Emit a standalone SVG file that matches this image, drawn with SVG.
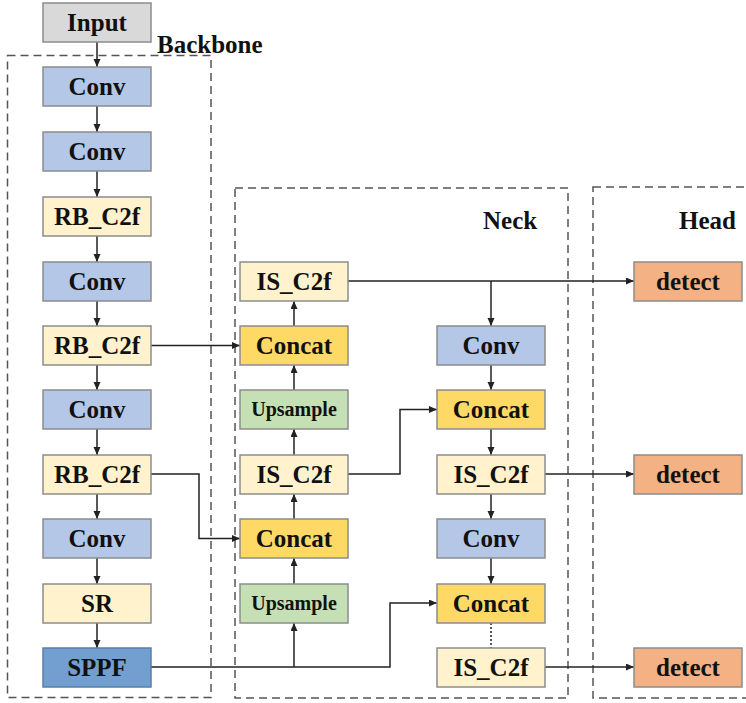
<svg xmlns="http://www.w3.org/2000/svg" width="746" height="703" viewBox="0 0 746 703">
<style>
.n{stroke:#8c8c8c;stroke-width:1.5}
.in{fill:#d9d9d9}
.cv{fill:#b4c7e7}
.c2{fill:#fff2cc}
.cc{fill:#ffd966}
.up{fill:#c5e0b4}
.sp{fill:#729fcf;stroke:#5b7ea8}
.dt{fill:#f4b183}
text{font-family:"Liberation Serif","Times New Roman",serif;font-weight:bold;font-size:25px;fill:#111;text-anchor:middle}
.s{font-size:20px}
.lbl{text-anchor:start}
.grp{fill:none;stroke:#555;stroke-width:1.5;stroke-dasharray:8 5}
.e{fill:none;stroke:#222;stroke-width:1.5}
.ea{fill:none;stroke:#222;stroke-width:1.5;marker-end:url(#ah)}
.dot{fill:none;stroke:#222;stroke-width:1.5;stroke-dasharray:2 2}
</style>
<defs>
<marker id="ah" markerUnits="userSpaceOnUse" markerWidth="9" markerHeight="8" refX="8" refY="3.5" orient="auto">
<path d="M0,0 L8,3.5 L0,7 z" fill="#222"/>
</marker>
</defs>
<g id="groups">
<rect class="grp" x="7.5" y="55.5" width="203.5" height="642"/>
<rect class="grp" x="235" y="188" width="333" height="510"/>
<rect class="grp" x="593" y="187" width="200" height="511"/>
<text class="lbl" x="157" y="53">Backbone</text>
<text class="lbl" x="483" y="229">Neck</text>
<text class="lbl" x="679" y="229">Head</text>
</g>
<g id="connectors">
<line class="ea" x1="97" y1="42" x2="97" y2="67"/>
<line class="ea" x1="97" y1="106" x2="97" y2="132"/>
<line class="ea" x1="97" y1="171" x2="97" y2="197"/>
<line class="ea" x1="97" y1="236" x2="97" y2="262"/>
<line class="ea" x1="97" y1="301" x2="97" y2="326"/>
<line class="ea" x1="97" y1="365" x2="97" y2="390"/>
<line class="ea" x1="97" y1="429" x2="97" y2="455"/>
<line class="ea" x1="97" y1="494" x2="97" y2="519"/>
<line class="ea" x1="97" y1="558" x2="97" y2="584"/>
<line class="ea" x1="97" y1="623" x2="97" y2="648"/>
<line class="ea" x1="151" y1="345.5" x2="240" y2="345.5"/>
<polyline class="ea" points="151,474 199,474 199,538.5 240,538.5"/>
<polyline class="ea" points="151,667 390,667 390,603 437,603"/>
<line class="ea" x1="294" y1="667" x2="294" y2="623"/>
<line class="ea" x1="294" y1="584" x2="294" y2="558"/>
<line class="ea" x1="294" y1="519" x2="294" y2="494"/>
<line class="ea" x1="294" y1="455" x2="294" y2="429"/>
<line class="ea" x1="294" y1="390" x2="294" y2="365"/>
<line class="ea" x1="294" y1="326" x2="294" y2="301"/>
<polyline class="ea" points="348,474 400,474 400,409.5 437,409.5"/>
<line class="ea" x1="348" y1="281" x2="634" y2="281"/>
<line class="ea" x1="491" y1="281" x2="491" y2="326"/>
<line class="ea" x1="491" y1="365" x2="491" y2="390"/>
<line class="ea" x1="491" y1="429" x2="491" y2="455"/>
<line class="ea" x1="491" y1="494" x2="491" y2="519"/>
<line class="ea" x1="491" y1="558" x2="491" y2="584"/>
<line class="dot" x1="491" y1="623" x2="491" y2="648"/>
<line class="ea" x1="545" y1="474" x2="634" y2="474"/>
<line class="ea" x1="545" y1="667" x2="634" y2="667"/>
</g>
<g id="input"><rect class="n in" x="43" y="3" width="108" height="39"/><text x="97" y="31">Input</text></g>
<g id="b_conv1"><rect class="n cv" x="43" y="67" width="108" height="39"/><text x="97" y="95">Conv</text></g>
<g id="b_conv2"><rect class="n cv" x="43" y="132" width="108" height="39"/><text x="97" y="160">Conv</text></g>
<g id="b_rbc2f1"><rect class="n c2" x="43" y="197" width="108" height="39"/><text x="97" y="225">RB_C2f</text></g>
<g id="b_conv3"><rect class="n cv" x="43" y="262" width="108" height="39"/><text x="97" y="290">Conv</text></g>
<g id="b_rbc2f2"><rect class="n c2" x="43" y="326" width="108" height="39"/><text x="97" y="354">RB_C2f</text></g>
<g id="b_conv4"><rect class="n cv" x="43" y="390" width="108" height="39"/><text x="97" y="418">Conv</text></g>
<g id="b_rbc2f3"><rect class="n c2" x="43" y="455" width="108" height="39"/><text x="97" y="483">RB_C2f</text></g>
<g id="b_conv5"><rect class="n cv" x="43" y="519" width="108" height="39"/><text x="97" y="547">Conv</text></g>
<g id="b_sr"><rect class="n c2" x="43" y="584" width="108" height="39"/><text x="97" y="612">SR</text></g>
<g id="b_sppf"><rect class="n sp" x="43" y="648" width="108" height="39"/><text x="97" y="676">SPPF</text></g>
<g id="n_isc2f1"><rect class="n c2" x="240" y="262" width="108" height="39"/><text x="294" y="290">IS_C2f</text></g>
<g id="n_concat1"><rect class="n cc" x="240" y="326" width="108" height="39"/><text x="294" y="354">Concat</text></g>
<g id="n_up1"><rect class="n up" x="240" y="390" width="108" height="39"/><text class="s" x="294" y="416">Upsample</text></g>
<g id="n_isc2f2"><rect class="n c2" x="240" y="455" width="108" height="39"/><text x="294" y="483">IS_C2f</text></g>
<g id="n_concat2"><rect class="n cc" x="240" y="519" width="108" height="39"/><text x="294" y="547">Concat</text></g>
<g id="n_up2"><rect class="n up" x="240" y="584" width="108" height="39"/><text class="s" x="294" y="610">Upsample</text></g>
<g id="n_conv1"><rect class="n cv" x="437" y="326" width="108" height="39"/><text x="491" y="354">Conv</text></g>
<g id="n_concat3"><rect class="n cc" x="437" y="390" width="108" height="39"/><text x="491" y="418">Concat</text></g>
<g id="n_isc2f3"><rect class="n c2" x="437" y="455" width="108" height="39"/><text x="491" y="483">IS_C2f</text></g>
<g id="n_conv2"><rect class="n cv" x="437" y="519" width="108" height="39"/><text x="491" y="547">Conv</text></g>
<g id="n_concat4"><rect class="n cc" x="437" y="584" width="108" height="39"/><text x="491" y="612">Concat</text></g>
<g id="n_isc2f4"><rect class="n c2" x="437" y="648" width="108" height="39"/><text x="491" y="676">IS_C2f</text></g>
<g id="h_detect1"><rect class="n dt" x="634" y="262" width="108" height="39"/><text x="688" y="290">detect</text></g>
<g id="h_detect2"><rect class="n dt" x="634" y="455" width="108" height="39"/><text x="688" y="483">detect</text></g>
<g id="h_detect3"><rect class="n dt" x="634" y="648" width="108" height="39"/><text x="688" y="676">detect</text></g>
</svg>
